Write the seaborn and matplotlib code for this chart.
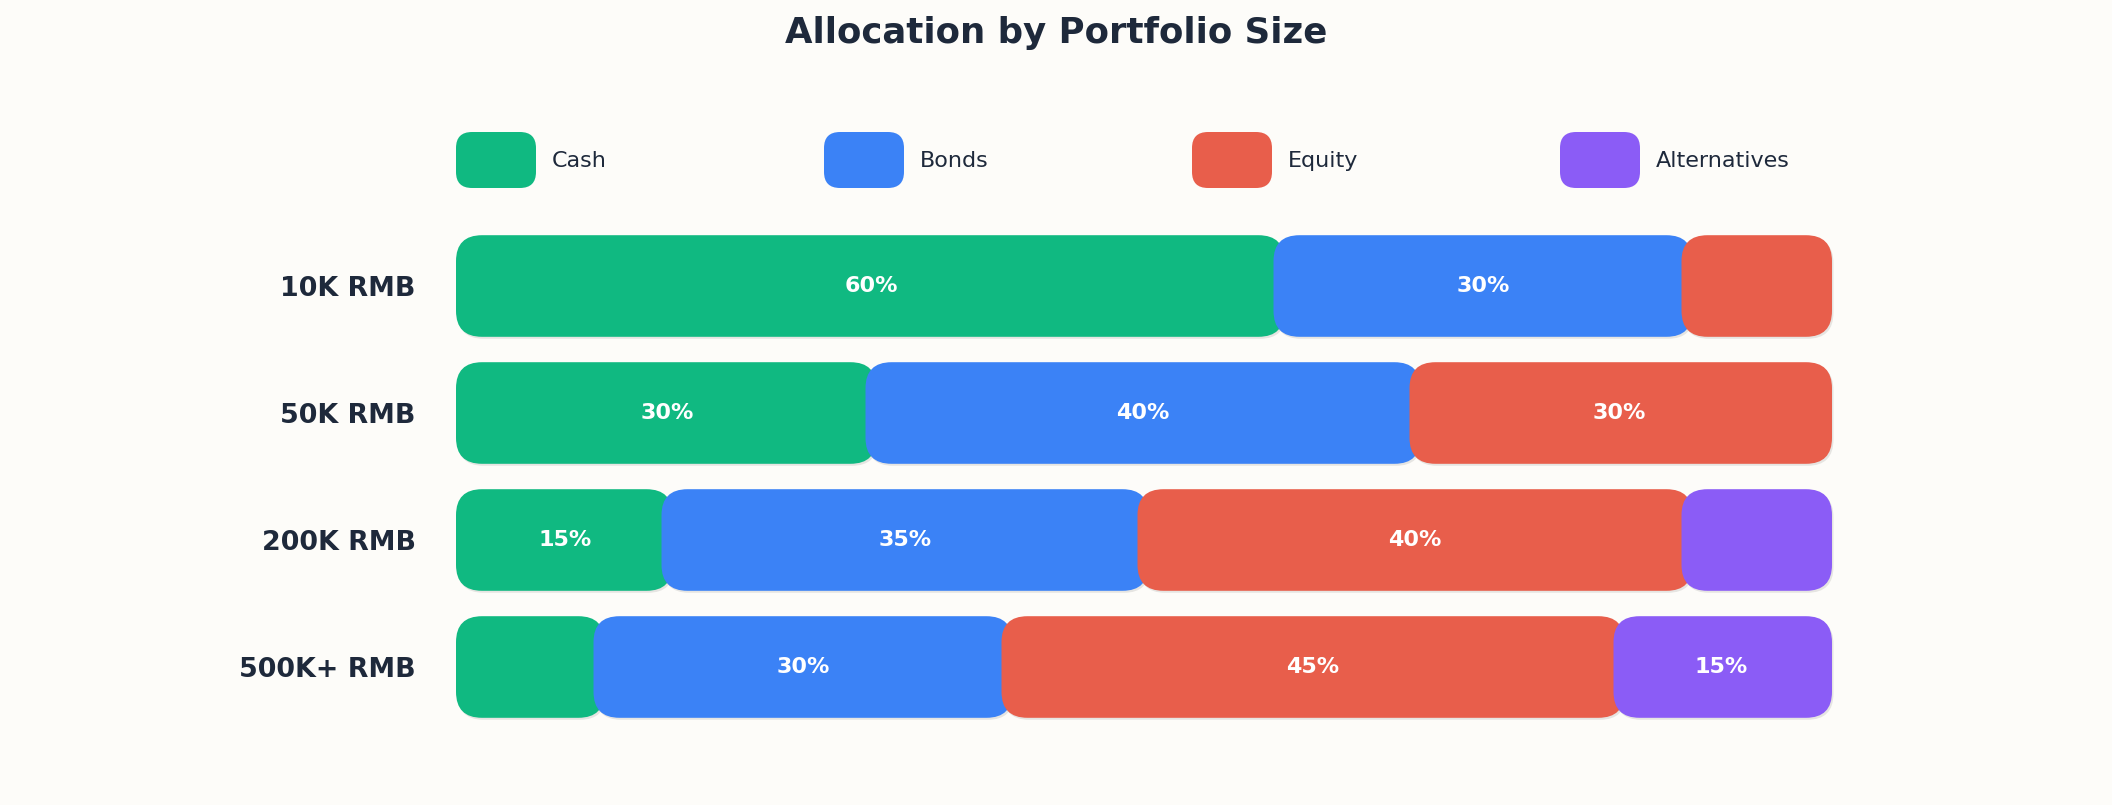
import numpy as np
import pandas as pd
import matplotlib
matplotlib.use("Agg")
import matplotlib.pyplot as plt
import seaborn as sns
from matplotlib.patches import FancyBboxPatch
from matplotlib import transforms

# ---- data ----
sizes = ["10K RMB", "50K RMB", "200K RMB", "500K+ RMB"]
series = ["Cash", "Bonds", "Equity", "Alternatives"]
cash = [60, 30, 15, 10]
bonds = [30, 40, 35, 30]
equity = [10, 30, 40, 45]
alternatives = [0, 0, 10, 15]
colors = ["#10B981", "#3B82F6", "#E85E4B", "#8B5CF6"]
title = "Allocation by Portfolio Size"

BG = "#FDFCF9"
TEXT = "#1E293B"
DPI = 200
W, H = 2112, 805

sns.set_style("white")
plt.rcParams["font.family"] = ["DejaVu Sans"]

df = pd.DataFrame({"size": sizes, "Cash": cash, "Bonds": bonds,
                   "Equity": equity, "Alternatives": alternatives})

fig = plt.figure(figsize=(W / DPI, H / DPI), dpi=DPI, facecolor=BG)
ax_l, ax_w = 463, 1360
ax_top, ax_bot = 222.5, 730.5
ax = fig.add_axes([ax_l / W, (H - ax_bot) / H, ax_w / W, (ax_bot - ax_top) / H])
ax.set_facecolor(BG)

px_x = ax_w / 100.0
px_y = (ax_bot - ax_top) / len(sizes)
aspect = px_x / px_y
radius = 26 / px_x
ov = 5.5 / px_x
start_ext = 7 / px_x
end_ext = 9 / px_x

vals = df[series].to_numpy()
first_nz = [min(i for i in range(len(series)) if vals[r, i] > 0) for r in range(len(sizes))]
last_nz = [max(i for i in range(len(series)) if vals[r, i] > 0) for r in range(len(sizes))]
starts = np.zeros(len(sizes))
shadow_tr = transforms.offset_copy(ax.transData, fig=fig, x=1.5, y=-2, units="dots")

for si, name in enumerate(series):
    n0 = len(ax.patches)
    sns.barplot(data=df, x=name, y="size", order=sizes, color=colors[si],
                width=0.8, saturation=1, errorbar=None, ax=ax)
    new = list(ax.patches)[n0:]
    for ri, p in enumerate(new):
        y0, h = p.get_y(), p.get_height()
        v = vals[ri, si]
        p.remove()
        if v <= 0:
            continue
        x0 = starts[ri] - (start_ext if si == first_nz[ri] else ov)
        x1 = starts[ri] + v + (end_ext if si == last_nz[ri] else ov)
        for tr, fc, a in [(shadow_tr, "#000000", 0.09), (ax.transData, colors[si], 1.0)]:
            ax.add_patch(FancyBboxPatch(
                (x0, y0), x1 - x0, h,
                boxstyle=f"round,pad=0,rounding_size={radius}",
                mutation_aspect=aspect, fc=fc, ec="none", alpha=a,
                transform=tr, zorder=2 + si, clip_on=False))
        if v >= 15:
            ax.text(starts[ri] + v / 2, y0 + h / 2, f"{v}%", ha="center", va="center",
                    color="white", fontsize=8, fontweight="bold", zorder=10)
        starts[ri] += v

ax.set_xlim(0, 100)
ax.set_ylim(len(sizes) - 0.5, -0.5)
ax.set_xticks([])
ax.set_xlabel("")
ax.set_ylabel("")
for s in ax.spines.values():
    s.set_visible(False)
ax.tick_params(axis="y", length=0, pad=17, labelsize=9.7, labelcolor=TEXT)
for lab in ax.get_yticklabels():
    lab.set_fontweight("bold")

# legend
for k, name in enumerate(series):
    x0 = 456 + k * 368
    fig.add_artist(FancyBboxPatch(
        (x0 / DPI, (H - 188) / DPI), 80 / DPI, 56 / DPI,
        boxstyle=f"round,pad=0,rounding_size={16 / DPI}",
        fc=colors[k], ec="none", transform=fig.dpi_scale_trans))
    fig.text((x0 + 96) / W, (H - 161) / H, name, ha="left", va="center",
             fontsize=8, color=TEXT)

fig.text(0.5, (H - 43.5) / H, title, ha="center", va="baseline",
         fontsize=12.8, fontweight="bold", color=TEXT)

fig.savefig("out.png", dpi=DPI, facecolor=BG)
